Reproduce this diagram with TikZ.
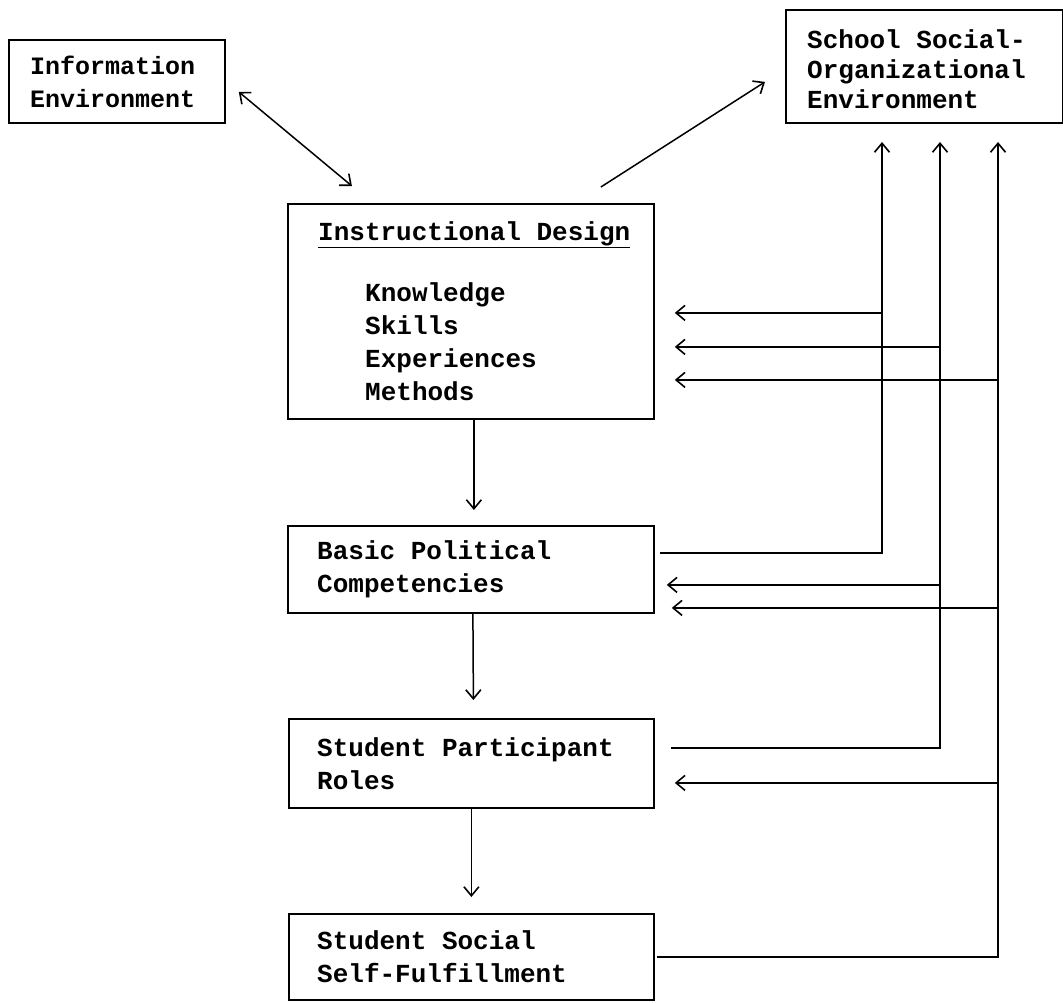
\documentclass[tikz,border=0pt]{standalone}
\usepackage{fontspec}
\newfontfamily\tw{Liberation Mono}
\usetikzlibrary{arrows.meta}
\begin{document}
\begin{tikzpicture}[x=1pt,y=-1pt,
  box/.style={draw, line width=1.8pt, anchor=north west, inner sep=0pt},
  lbl/.style={anchor=west, align=left, inner sep=0pt, font=\tw\bfseries\fontsize{26}{33}\selectfont},
  arr/.style={line width=1.5pt, -{Straight Barb[length=9pt,width=15pt,line width=1.6pt]}},
  darr/.style={line width=1.5pt, {Straight Barb[length=9pt,width=15pt,line width=1.6pt]}-{Straight Barb[length=9pt,width=15pt,line width=1.6pt]}}
]
\useasboundingbox (0,0) rectangle (1063,1002);

% boxes
\node[box, minimum width=216pt, minimum height=83pt] (info) at (8,39) {};
\node[lbl, font=\tw\bfseries\fontsize{25}{33}\selectfont] (infot) at ([xshift=22pt]info.west) {Information\\Environment};

\node[box, minimum width=277pt, minimum height=113pt] (school) at (785,9) {};
\node[lbl, font=\tw\bfseries\fontsize{26}{30}\selectfont] (schoolt) at ([xshift=22pt,yshift=-3pt]school.west) {School Social-\\Organizational\\Environment};

\node[box, minimum width=366pt, minimum height=215pt] (id) at (287,203) {};
\node[lbl] (idt) at ([xshift=31pt]id.west) {\underline{Instructional Design}\\[28pt]\hspace*{47pt}Knowledge\\\hspace*{47pt}Skills\\\hspace*{47pt}Experiences\\\hspace*{47pt}Methods};

\node[box, minimum width=366pt, minimum height=87pt] (bpc) at (287,525) {};
\node[lbl] (bpct) at ([xshift=30pt]bpc.west) {Basic Political\\Competencies};

\node[box, minimum width=365pt, minimum height=89pt] (spr) at (288,718) {};
\node[lbl] (sprt) at ([xshift=29pt]spr.west) {Student Participant\\Roles};

\node[box, minimum width=365pt, minimum height=86pt] (sssf) at (288,913) {};
\node[lbl] (sssft) at ([xshift=29pt]sssf.west) {Student Social\\Self-Fulfillment};

% column tops (arrow tips below the school box)
\coordinate (c1) at (882,142);
\coordinate (c2) at (940,142);
\coordinate (c3) at (998,142);

% diagonal connectors
\draw[darr] ([xshift=13pt,yshift=-10.5pt]info.east) -- ([xshift=-119pt,yshift=17pt]id.north);
\draw[arr] ([xshift=130pt,yshift=16pt]id.north) -- ([xshift=-20pt,yshift=-15.5pt]school.west);

% main vertical chain
\draw[arr] ([xshift=3pt]id.south) -- ([xshift=3pt,yshift=15pt]bpc.north);
\draw[arr] ([xshift=2pt]bpc.south) -- ([xshift=2pt,yshift=18pt]spr.north);
\draw[arr] ([xshift=0pt]spr.south) -- ([xshift=0pt,yshift=16pt]sssf.north);

% feedback to the school environment
\draw[arr] ([xshift=5pt,yshift=16.5pt]bpc.east) -| (c1);
\draw[arr] ([xshift=16pt,yshift=15.5pt]spr.east) -| (c2);
\draw[arr] ([xshift=2pt,yshift=0pt]sssf.east) -| (c3);

% arrow tips at the boxes
\coordinate (t1) at ([xshift=20pt,yshift=-1.5pt]id.east);
\coordinate (t2) at ([xshift=20pt,yshift=-35.5pt]id.east);
\coordinate (t3) at ([xshift=20pt,yshift=-68.5pt]id.east);
\coordinate (t4) at ([xshift=12pt,yshift=-15.5pt]bpc.east);
\coordinate (t5) at ([xshift=17pt,yshift=-38.5pt]bpc.east);
\coordinate (t6) at ([xshift=20pt,yshift=-19.5pt]spr.east);

\draw[arr] (c1 |- t1) -- (t1);
\draw[arr] (c2 |- t2) -- (t2);
\draw[arr] (c3 |- t3) -- (t3);
\draw[arr] (c2 |- t4) -- (t4);
\draw[arr] (c3 |- t5) -- (t5);
\draw[arr] (c3 |- t6) -- (t6);
\end{tikzpicture}
\end{document}
